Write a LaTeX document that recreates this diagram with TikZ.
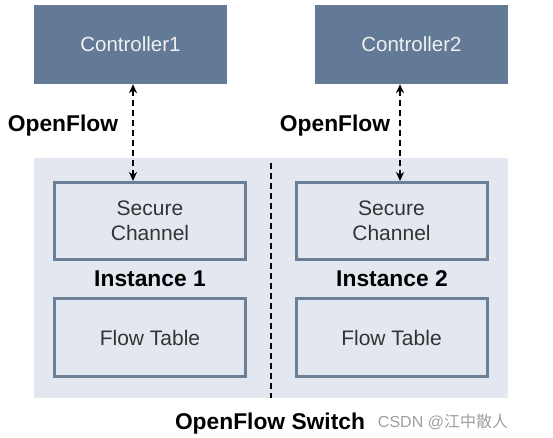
\documentclass[tikz,border=0pt]{standalone}
\usepackage{fontspec}
\setmainfont{Liberation Sans}
\newfontfamily\cjk{Noto Sans CJK SC}
\usepackage{xcolor}
\usetikzlibrary{arrows.meta,positioning,calc}

\definecolor{ctrlblue}{HTML}{627A96}
\definecolor{switchbg}{HTML}{E3E8F0}
\definecolor{boxline}{HTML}{6B7F96}
\definecolor{boxtext}{HTML}{333333}

\tikzset{
    ctrlbox/.style={fill=ctrlblue, text=white!94!black, minimum width=193, minimum height=79, inner sep=0, font=\fontsize{20.5}{24}\selectfont},
    instbox/.style={draw=boxline, line width=3, fill=switchbg, text=boxtext, minimum width=191, minimum height=77, inner sep=0, align=center, font=\fontsize{21}{25}\selectfont},
    link/.style={dashed, dash pattern=on 6 off 4, line width=1.8, {Stealth[length=9,width=8]}-{Stealth[length=9,width=8]}},
    boldlabel/.style={font=\bfseries\fontsize{22.8}{27}\selectfont}
}

\begin{document}
\begin{tikzpicture}[x=1pt, y=-1pt]
    \useasboundingbox (0,0) rectangle (553,438);

    % Switch body
    \node[fill=switchbg, minimum width=474, minimum height=240, inner sep=0] (switch) at (271,278) {};

    % Controllers
    \node[ctrlbox] (ctrlA) at (130.5,44.5) {Controller1};
    \node[ctrlbox] (ctrlB) at (411.5,44.5) {Controller2};

    % Instances
    \node[instbox] (secA) at (150,221) {Secure\\Channel};
    \node[instbox] (secB) at (391.5,221) {Secure\\Channel};
    \node[instbox, minimum height=78] (tabA) at (150,337.5) {Flow Table};
    \node[instbox, minimum height=78] (tabB) at (391.5,337.5) {Flow Table};

    % Labels
    \node[boldlabel] (instA) at (150,279) {Instance 1};
    \node[boldlabel] (instB) at (392,279) {Instance 2};
    \node[boldlabel] (ofA) at (63,126) {OpenFlow};
    \node[boldlabel] (ofB) at (335,126) {OpenFlow};
    \node[boldlabel] (swlabel) at (270,424) {OpenFlow Switch};
    \node[text=gray!75, font=\fontsize{16}{19}\selectfont] (mark) at (443,422) {CSDN @{\cjk 江中散人}};

    % Divider
    \draw[dashed, dash pattern=on 6 off 4, line width=1.8] ([yshift=-5]switch.north) -- (switch.south);

    % OpenFlow channels
    \draw[link] ([xshift=2.5]ctrlA.south) -- ([xshift=-17]secA.north);
    \draw[link] ([xshift=-11.5]ctrlB.south) -- ([xshift=8.5]secB.north);
\end{tikzpicture}
\end{document}
